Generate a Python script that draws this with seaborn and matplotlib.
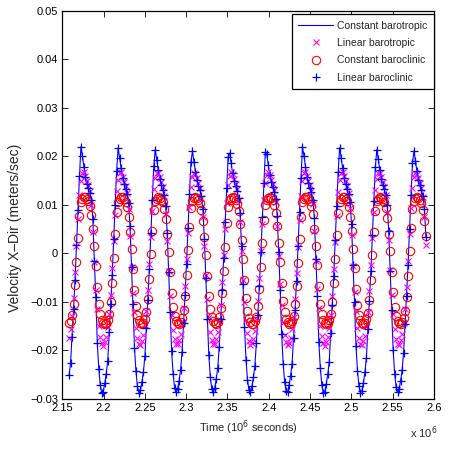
import numpy as np
import pandas as pd
import matplotlib
matplotlib.use("Agg")
import matplotlib.pyplot as plt
from matplotlib.ticker import FuncFormatter
import seaborn as sns

# ---- data (time in units of 10^6 s, regular half-hour sampling) ----
t_start = 2.1582
t_step = 0.0018

# Constant barotropic (line) – coincides with the linear baroclinic (+) readings
constant_barotropic = [
    -0.0251, -0.0226, -0.0172, -0.0114, -0.0055, 0.0018, 0.0089, 0.0159,
    0.0220, 0.0200, 0.0178, 0.0157, 0.0144, 0.0134, 0.0125, 0.0110, 0.0070, -0.0015, -0.0090, -0.0185, -0.0238,
    -0.0272, -0.0287, -0.0285, -0.0268, -0.0248, -0.0222, -0.0162, -0.0105, -0.0045, 0.0030, 0.0100, 0.0170,
    0.0217, 0.0197, 0.0175, 0.0155, 0.0142, 0.0133, 0.0123, 0.0104, 0.0056, -0.0027, -0.0105, -0.0194, -0.0243,
    -0.0274, -0.0287, -0.0282, -0.0265, -0.0244, -0.0212, -0.0153, -0.0095, -0.0033, 0.0041, 0.0111, 0.0180,
    0.0214, 0.0193, 0.0171, 0.0153, 0.0141, 0.0131, 0.0120, 0.0097, 0.0043, -0.0039, -0.0120, -0.0202, -0.0249,
    -0.0277, -0.0286, -0.0280, -0.0262, -0.0240, -0.0203, -0.0144, -0.0086, -0.0021, 0.0052, 0.0122, 0.0189,
    0.0210, 0.0189, 0.0168, 0.0151, 0.0139, 0.0130, 0.0118, 0.0091, 0.0029, -0.0051, -0.0136, -0.0210, -0.0254,
    -0.0279, -0.0286, -0.0277, -0.0258, -0.0236, -0.0193, -0.0135, -0.0076, -0.0009, 0.0064, 0.0134, 0.0199,
    0.0207, 0.0186, 0.0165, 0.0149, 0.0138, 0.0128, 0.0115, 0.0084, 0.0016, -0.0063, -0.0151, -0.0219, -0.0260,
    -0.0282, -0.0286, -0.0274, -0.0255, -0.0231, -0.0184, -0.0126, -0.0067, 0.0003, 0.0075, 0.0145, 0.0208,
    0.0204, 0.0182, 0.0161, 0.0147, 0.0136, 0.0127, 0.0113, 0.0078, 0.0002, -0.0075, -0.0166, -0.0227, -0.0265,
    -0.0284, -0.0285, -0.0271, -0.0252, -0.0227, -0.0174, -0.0116, -0.0057, 0.0015, 0.0086, 0.0156, 0.0219,
    0.0201, 0.0179, 0.0158, 0.0145, 0.0134, 0.0126, 0.0111, 0.0072, -0.0012, -0.0087, -0.0183, -0.0236,
    -0.0271, -0.0287, -0.0285, -0.0269, -0.0249, -0.0223, -0.0164, -0.0107, -0.0047, 0.0027, 0.0097, 0.0167,
    0.0218, 0.0197, 0.0175, 0.0155, 0.0143, 0.0133, 0.0123, 0.0105, 0.0060, -0.0024, -0.0101, -0.0191, -0.0242,
    -0.0274, -0.0287, -0.0283, -0.0266, -0.0245, -0.0215, -0.0155, -0.0098, -0.0036, 0.0038, 0.0108, 0.0177,
    0.0214, 0.0194, 0.0172, 0.0153, 0.0141, 0.0132, 0.0121, 0.0099, 0.0046, -0.0036, -0.0117, -0.0200, -0.0248,
    -0.0276, -0.0286, -0.0280, -0.0262, -0.0241, -0.0205, -0.0146, -0.0088, -0.0024, 0.0050, 0.0120, 0.0187,
    0.0211, 0.0190, 0.0169, 0.0151, 0.0140, 0.0130, 0.0118, 0.0092, 0.0033,
]
linear_baroclinic = constant_barotropic  # same readings: the + marks sit on the line

linear_barotropic = [
    -0.0174, -0.0155, -0.0129, -0.0091, -0.0039, 0.0016, 0.0071, 0.0120,
    0.0150, 0.0165, 0.0168, 0.0160, 0.0150, 0.0140, 0.0128, 0.0100, 0.0045, -0.0018, -0.0075, -0.0115, -0.0150,
    -0.0172, -0.0185, -0.0190, -0.0182, -0.0172, -0.0152, -0.0125, -0.0085, -0.0030, 0.0025, 0.0080, 0.0128,
    0.0152, 0.0166, 0.0167, 0.0158, 0.0148, 0.0138, 0.0124, 0.0091, 0.0035, -0.0027, -0.0081, -0.0121, -0.0154,
    -0.0174, -0.0186, -0.0189, -0.0180, -0.0169, -0.0148, -0.0119, -0.0076, -0.0021, 0.0034, 0.0088, 0.0132,
    0.0155, 0.0166, 0.0165, 0.0157, 0.0147, 0.0136, 0.0119, 0.0082, 0.0025, -0.0036, -0.0088, -0.0126, -0.0157,
    -0.0176, -0.0187, -0.0187, -0.0179, -0.0166, -0.0143, -0.0112, -0.0067, -0.0012, 0.0043, 0.0095, 0.0136,
    0.0157, 0.0166, 0.0164, 0.0155, 0.0145, 0.0134, 0.0115, 0.0074, 0.0015, -0.0045, -0.0094, -0.0132, -0.0161,
    -0.0178, -0.0187, -0.0186, -0.0177, -0.0162, -0.0139, -0.0106, -0.0059, -0.0004, 0.0051, 0.0103, 0.0141,
    0.0160, 0.0167, 0.0163, 0.0154, 0.0144, 0.0132, 0.0110, 0.0065, 0.0005, -0.0054, -0.0101, -0.0137, -0.0164,
    -0.0180, -0.0188, -0.0185, -0.0176, -0.0159, -0.0135, -0.0099, -0.0050, 0.0005, 0.0060, 0.0111, 0.0145,
    0.0162, 0.0167, 0.0162, 0.0152, 0.0142, 0.0130, 0.0106, 0.0056, -0.0005, -0.0064, -0.0107, -0.0143, -0.0168,
    -0.0182, -0.0189, -0.0184, -0.0174, -0.0156, -0.0130, -0.0093, -0.0041, 0.0014, 0.0069, 0.0118, 0.0149,
    0.0165, 0.0168, 0.0160, 0.0150, 0.0140, 0.0128, 0.0101, 0.0047, -0.0016, -0.0073, -0.0113, -0.0149,
    -0.0171, -0.0184, -0.0190, -0.0182, -0.0173, -0.0153, -0.0127, -0.0087, -0.0032, 0.0023, 0.0078, 0.0126,
    0.0152, 0.0165, 0.0167, 0.0159, 0.0149, 0.0139, 0.0125, 0.0093, 0.0037, -0.0025, -0.0080, -0.0119, -0.0153,
    -0.0174, -0.0186, -0.0189, -0.0181, -0.0170, -0.0149, -0.0120, -0.0078, -0.0023, 0.0032, 0.0086, 0.0131,
    0.0154, 0.0166, 0.0166, 0.0157, 0.0147, 0.0137, 0.0120, 0.0085, 0.0027, -0.0034, -0.0086, -0.0125, -0.0156,
    -0.0176, -0.0186, -0.0188, -0.0179, -0.0166, -0.0144, -0.0114, -0.0070, -0.0015, 0.0040, 0.0093, 0.0135,
    0.0157, 0.0166, 0.0164, 0.0156, 0.0146, 0.0135, 0.0116, 0.0076, 0.0017,
]

constant_baroclinic = [
    -0.0144, -0.0139, -0.0127, -0.0104, -0.0066, -0.0018, 0.0032, 0.0078,
    0.0105, 0.0112, 0.0116, 0.0116, 0.0113, 0.0108, 0.0098, 0.0080, 0.0050, 0.0015, -0.0025, -0.0070, -0.0105,
    -0.0125, -0.0137, -0.0143, -0.0146, -0.0144, -0.0138, -0.0125, -0.0100, -0.0060, -0.0010, 0.0040, 0.0085,
    0.0106, 0.0113, 0.0116, 0.0116, 0.0112, 0.0106, 0.0095, 0.0075, 0.0044, 0.0009, -0.0032, -0.0076, -0.0108,
    -0.0127, -0.0138, -0.0143, -0.0146, -0.0143, -0.0136, -0.0121, -0.0094, -0.0052, -0.0002, 0.0047, 0.0089,
    0.0107, 0.0113, 0.0116, 0.0115, 0.0111, 0.0105, 0.0092, 0.0070, 0.0039, 0.0002, -0.0039, -0.0081, -0.0111,
    -0.0129, -0.0139, -0.0144, -0.0145, -0.0142, -0.0134, -0.0117, -0.0087, -0.0044, 0.0006, 0.0054, 0.0093,
    0.0108, 0.0114, 0.0116, 0.0115, 0.0111, 0.0103, 0.0089, 0.0066, 0.0033, -0.0004, -0.0047, -0.0087, -0.0115,
    -0.0131, -0.0140, -0.0144, -0.0145, -0.0141, -0.0132, -0.0113, -0.0081, -0.0036, 0.0014, 0.0062, 0.0096,
    0.0110, 0.0115, 0.0116, 0.0114, 0.0110, 0.0102, 0.0087, 0.0061, 0.0028, -0.0011, -0.0054, -0.0092, -0.0118,
    -0.0133, -0.0141, -0.0145, -0.0145, -0.0140, -0.0130, -0.0109, -0.0074, -0.0028, 0.0022, 0.0069, 0.0100,
    0.0111, 0.0115, 0.0116, 0.0114, 0.0109, 0.0100, 0.0084, 0.0056, 0.0022, -0.0017, -0.0061, -0.0098, -0.0121,
    -0.0135, -0.0142, -0.0145, -0.0144, -0.0139, -0.0128, -0.0105, -0.0068, -0.0020, 0.0030, 0.0076, 0.0105,
    0.0112, 0.0116, 0.0116, 0.0113, 0.0108, 0.0098, 0.0081, 0.0051, 0.0016, -0.0023, -0.0068, -0.0104,
    -0.0124, -0.0137, -0.0143, -0.0146, -0.0144, -0.0138, -0.0125, -0.0101, -0.0062, -0.0012, 0.0038, 0.0083,
    0.0106, 0.0112, 0.0116, 0.0116, 0.0112, 0.0107, 0.0096, 0.0076, 0.0046, 0.0010, -0.0030, -0.0074, -0.0107,
    -0.0126, -0.0138, -0.0143, -0.0146, -0.0143, -0.0136, -0.0122, -0.0095, -0.0054, -0.0004, 0.0045, 0.0088,
    0.0107, 0.0113, 0.0116, 0.0115, 0.0112, 0.0105, 0.0093, 0.0072, 0.0040, 0.0004, -0.0038, -0.0080, -0.0111,
    -0.0128, -0.0139, -0.0144, -0.0145, -0.0142, -0.0134, -0.0118, -0.0089, -0.0046, 0.0004, 0.0053, 0.0092,
    0.0108, 0.0114, 0.0116, 0.0115, 0.0111, 0.0104, 0.0090, 0.0067, 0.0035,
]

x_ticks = [2.15, 2.2, 2.25, 2.3, 2.35, 2.4, 2.45, 2.5, 2.55, 2.6]
y_ticks = [-0.03, -0.02, -0.01, 0.0, 0.01, 0.02, 0.03, 0.04, 0.05]
series_names = ["Constant barotropic", "Linear barotropic",
                "Constant baroclinic", "Linear baroclinic"]

n = len(constant_barotropic)
time = t_start + t_step * np.arange(n)
df = pd.DataFrame({
    "time": time,
    "const_bt": constant_barotropic,
    "lin_bt": linear_barotropic,
    "const_bc": constant_baroclinic,
    "lin_bc": linear_baroclinic,
})

sns.set_theme(style="white")
plt.rcParams["font.family"] = ["Liberation Sans", "DejaVu Sans"]
plt.rcParams["axes.unicode_minus"] = True

fig = plt.figure(figsize=(4.53, 4.50), dpi=100)
ax = fig.add_axes([0.1375, 0.1133, 0.8205, 0.8629])

sns.lineplot(data=df, x="time", y="const_bt", ax=ax, color="#0000ff",
             lw=0.8, label=series_names[0], estimator=None, sort=False)
sns.lineplot(data=df, x="time", y="lin_bt", ax=ax, ls="none", marker="x",
             ms=4, mew=0.8, mec="#ff00ff", color="#ff00ff",
             label=series_names[1], estimator=None, sort=False)
sns.lineplot(data=df, x="time", y="const_bc", ax=ax, ls="none", marker="o",
             ms=6, mew=0.8, mec="#ff0000", mfc="none", color="#ff0000",
             label=series_names[2], estimator=None, sort=False)
sns.lineplot(data=df, x="time", y="lin_bc", ax=ax, ls="none", marker="+",
             ms=6, mew=0.9, mec="#0000ff", color="#0000ff",
             label=series_names[3], estimator=None, sort=False)

ax.set_xlim(2.15, 2.6)
ax.set_ylim(-0.03, 0.05)
ax.set_xticks(x_ticks)
ax.set_yticks(y_ticks)
ax.xaxis.set_major_formatter(FuncFormatter(lambda v, p: f"{v:g}"))
ax.yaxis.set_major_formatter(
    FuncFormatter(lambda v, p: "0" if abs(v) < 1e-12 else f"{v:.2f}".replace("-", "\u2212")))
ax.tick_params(direction="in", length=4, width=0.6, labelsize=8, colors="black",
               top=True, right=True, bottom=True, left=True, pad=3)
for s in ax.spines.values():
    s.set_visible(True)
    s.set_color("black")
    s.set_linewidth(0.9)

ax.set_xlabel("Time (10$^6$ seconds)", fontsize=8, labelpad=4)
ax.set_ylabel("Velocity X\u2013Dir (meters/sec)", fontsize=10)
ax.yaxis.set_label_coords(-0.108, 0.44)
fig.text(0.905, 0.02, "x 10$^6$", fontsize=8, ha="left", va="bottom")

leg = ax.legend(loc="upper right", bbox_to_anchor=(1.0, 0.9915), fontsize=7.5,
                frameon=True, fancybox=False, framealpha=1, edgecolor="black",
                borderaxespad=0.0, handlelength=3.3, handletextpad=0.4,
                labelspacing=0.7, borderpad=0.65)
leg.get_frame().set_linewidth(0.9)

fig.savefig("out.png", dpi=100)
